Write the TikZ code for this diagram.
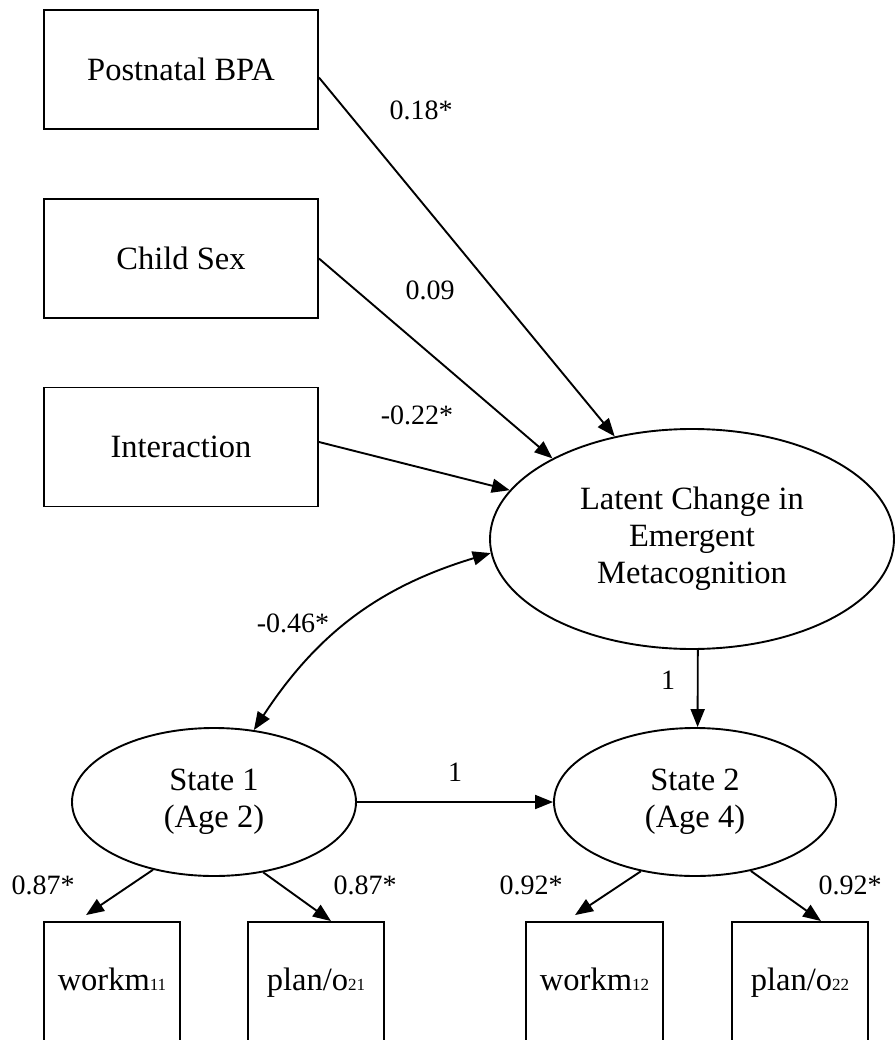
\documentclass[tikz,border=0pt]{standalone}
\usepackage{fontspec}
\setmainfont{Liberation Serif}
\usetikzlibrary{shapes.geometric,arrows.meta}
\newcommand\sbs[1]{{\fontsize{17}{17}\selectfont #1}}
\begin{document}
\begin{tikzpicture}[x=1pt,y=-1pt,
  box/.style={draw,line width=1.9pt,rectangle,inner sep=0pt,font=\fontsize{32.5}{37}\selectfont},
  ind/.style={box,text height=23pt,text depth=7pt},
  lat/.style={draw,line width=1.9pt,ellipse,inner sep=0pt,align=center,font=\fontsize{32.5}{37}\selectfont},
  arr/.style={line width=1.9pt,-{Triangle[length=18pt,width=14pt]}},
  biarr/.style={line width=1.9pt,{Triangle[length=18pt,width=14pt]}-{Triangle[length=18pt,width=14pt]}},
  lbl/.style={font=\fontsize{28}{30}\selectfont,inner sep=0pt}]
\clip (0,0) rectangle (895,1040);
\fill[white] (0,0) rectangle (895,1040);
% exogenous boxes
\node[box,minimum width=274pt,minimum height=119pt] (pbpa) at (181,69.5) {Postnatal BPA};
\node[box,minimum width=274pt,minimum height=119pt] (csex) at (181,258.5) {Child Sex};
\node[box,minimum width=274pt,minimum height=119pt] (inter) at (181,447) {Interaction};
% latent variables
\node[lat,minimum width=404pt,minimum height=220pt] (latent) at (692,539) {Latent Change in\\Emergent\\Metacognition};
\node[lat,minimum width=284pt,minimum height=148pt] (s1) at (214,802) {State 1\\(Age 2)};
\node[lat,minimum width=282pt,minimum height=148pt] (s2) at (695,802) {State 2\\(Age 4)};
% indicators
\node[ind,minimum width=136pt,minimum height=120pt] (w11) at (112,982) {workm\sbs{11}};
\node[ind,minimum width=136pt,minimum height=120pt] (p21) at (316,982) {plan/o\sbs{21}};
\node[ind,minimum width=137pt,minimum height=120pt] (w12) at (594.5,982) {workm\sbs{12}};
\node[ind,minimum width=136pt,minimum height=120pt] (p22) at (800,982) {plan/o\sbs{22}};
% paths
\draw[arr] ([yshift=-8pt]pbpa.east) -- (latent.127);
\draw[arr] (csex.east) -- (latent.150);
\draw[arr] ([yshift=5pt]inter.east) -- (latent.165);
\draw[biarr] (s1.61) to[bend left=20] (latent.184);
\draw[arr] (latent.273) -- (s2.88);
\draw[arr] (s1.east) -- (s2.west);
\draw[arr] (s1.228) -- ([xshift=-26pt,yshift=6pt]w11.north);
\draw[arr] (s1.305) -- ([xshift=15pt]p21.north);
\draw[arr] (s2.232) -- ([xshift=-19.5pt,yshift=6pt]w12.north);
\draw[arr] (s2.309) -- ([xshift=21pt]p22.north);
% labels
\node[lbl] (l1) at (421,110) {0.18*};
\node[lbl] (l2) at (430,290) {0.09};
\node[lbl] (l3) at (417,415) {-0.22*};
\node[lbl] (l4) at (293,623) {-0.46*};
\node[lbl] (l5) at (668,680) {1};
\node[lbl] (l6) at (455,772) {1};
\node[lbl] (l7) at (43,885) {0.87*};
\node[lbl] (l8) at (365,885) {0.87*};
\node[lbl] (l9) at (531,885) {0.92*};
\node[lbl] (l10) at (850,885) {0.92*};
\end{tikzpicture}
\end{document}
